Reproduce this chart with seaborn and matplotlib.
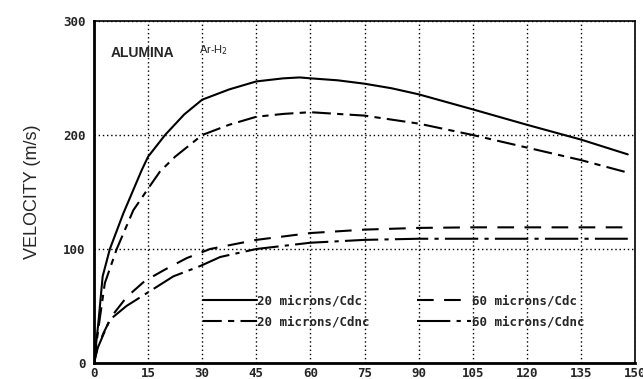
import numpy as np
import pandas as pd
import seaborn as sns
import matplotlib
matplotlib.use("Agg")
import matplotlib.pyplot as plt

# Data (distance vs velocity)
x_20_cdc = [0, 1.2, 2.4, 4.4, 8.1, 13.2, 15, 19.7, 25, 30, 37.5, 45, 52.5, 57, 60, 67.5, 75, 82.5, 90, 105, 120, 135, 148]
v_20_cdc = [0, 35, 76, 100, 131, 169, 181, 200, 218, 231, 240, 247, 249.7, 250.5, 249.7, 248, 245, 241, 235.7, 222.5, 209, 196, 183]

x_20_cdnc = [0, 1.2, 3, 6.3, 10.9, 15, 18.3, 22.5, 30, 37.5, 45, 52.5, 60, 75, 90, 105, 120, 135, 148]
v_20_cdnc = [0, 30, 70, 100, 134, 153, 168, 181, 200, 209, 216, 218.5, 220, 217, 210, 200, 189, 178, 167]

x_60_cdc = [0, 1, 2.6, 4.9, 9.1, 14.1, 19.7, 25.7, 32.2, 45, 60, 75, 90, 105, 120, 135, 148]
v_60_cdc = [0, 14, 26, 41, 58, 72, 82, 92, 100, 108, 114, 117, 118.5, 119, 119, 119, 119]

x_60_cdnc = [0, 1, 2.6, 4.4, 9, 15, 22, 29.4, 35, 45, 60, 75, 90, 105, 120, 135, 148]
v_60_cdnc = [0, 13, 25, 38, 50, 62, 76, 85, 93, 100, 105.5, 108, 109, 109, 109, 109, 109]

series_names = ["20 microns/Cdc", "20 microns/Cdnc", "60 microns/Cdc", "60 microns/Cdnc"]
x_ticks = [0, 15, 30, 45, 60, 75, 90, 105, 120, 135, 150]
y_ticks = [0, 100, 200, 300]

series_data = [(x_20_cdc, v_20_cdc), (x_20_cdnc, v_20_cdnc),
               (x_60_cdc, v_60_cdc), (x_60_cdnc, v_60_cdnc)]
df = pd.concat([
    pd.DataFrame({"x": xs, "v": vs, "series": name})
    for name, (xs, vs) in zip(series_names, series_data)
], ignore_index=True)

sns.set_style("white")
plt.rcParams['font.family'] = ['DejaVu Sans']

fig = plt.figure(figsize=(6.43, 3.79), dpi=100)
ax = fig.add_axes([94/643, 1 - 363/379, (635-94)/643, (363-21)/379])

styles = {
    "20 microns/Cdc": None,
    "20 microns/Cdnc": (0, (9, 3, 3, 3)),
    "60 microns/Cdc": (0, (8, 5)),
    "60 microns/Cdnc": (0, (16, 3, 2, 3)),
}
for name in series_names:
    sub = df[df["series"] == name]
    sns.lineplot(data=sub, x="x", y="v", ax=ax, color="black", linewidth=1.5,
                 label=name, estimator=None, sort=False)
    line = ax.lines[-1]
    if styles[name] is not None:
        line.set_linestyle(styles[name])

ax.set_xlim(0, 150)
ax.set_ylim(0, 300)
ax.set_xticks(x_ticks)
ax.set_yticks(y_ticks)
mono = {"family": "DejaVu Sans Mono", "weight": "bold", "size": 9}
ax.set_xticklabels([str(t) for t in x_ticks], fontdict=mono)
ax.set_yticklabels([str(t) for t in y_ticks], fontdict=mono)
ax.tick_params(direction="in", length=4, width=1, color="black", pad=3)
ax.tick_params(axis="y", pad=6)
ax.set_xlabel("")
ax.set_ylabel("VELOCITY (m/s)", fontsize=13, family="Liberation Sans", labelpad=16)

ax.grid(True, linestyle=(0, (1, 2)), color="black", linewidth=1)
for side, lw in [("left", 2), ("bottom", 2), ("top", 1.2), ("right", 1.2)]:
    ax.spines[side].set_visible(True)
    ax.spines[side].set_color("black")
    ax.spines[side].set_linewidth(lw)

ax.text(0.03, 0.905, "ALUMINA", transform=ax.transAxes, fontsize=10,
        fontweight="bold", family="Liberation Sans", va="center", ha="left")
ax.text(0.195, 0.915, r"Ar-H$_2$", transform=ax.transAxes, fontsize=8,
        family="Liberation Sans", va="center", ha="left")

handles, labels = ax.get_legend_handles_labels()
leg = ax.legend(handles, labels, loc="upper left", bbox_to_anchor=(0.19, 0.218),
                ncol=2, frameon=False, borderpad=0, handlelength=4.3,
                handletextpad=0.05, columnspacing=3.8, labelspacing=0.6,
                prop={"family": "DejaVu Sans Mono", "weight": "bold", "size": 9})

fig.savefig("out.png", dpi=100)
